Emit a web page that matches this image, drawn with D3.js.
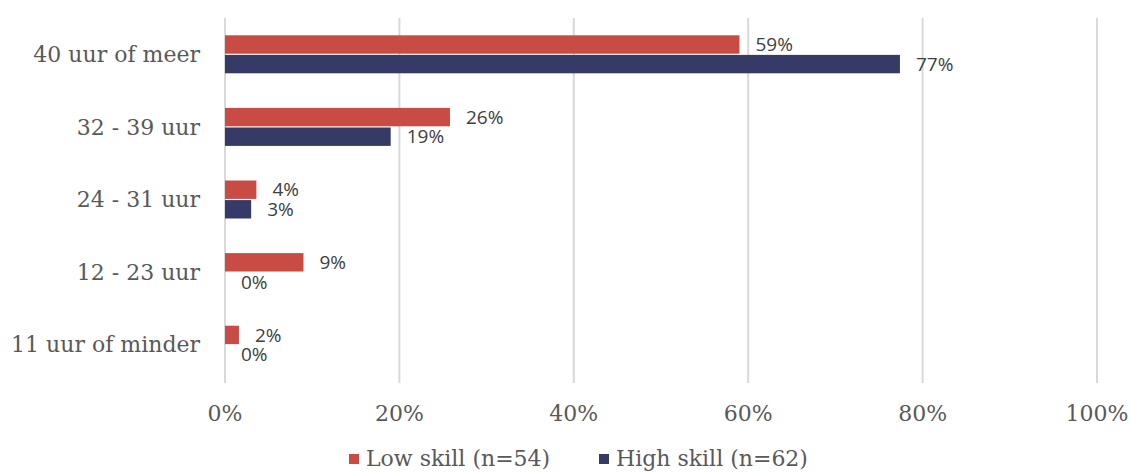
<!DOCTYPE html>
<meta charset="utf-8">
<style>
body { margin: 0; background: #fff; }
.grid line { stroke: #d9d9d9; stroke-width: 2; }
.cat, .tick-lbl, .legend text { font-family: "DejaVu Serif", serif; fill: #595959; }
.val { font-family: "Open Sans", "Noto Sans", sans-serif; font-size: 19px; fill: #404040; }
</style>
<svg width="1131" height="472"></svg>
<script src="https://d3js.org/d3.v7.min.js"></script>
<script>

var categories = ["40 uur of meer", "32 - 39 uur", "24 - 31 uur", "12 - 23 uur", "11 uur of minder"];
var seriesNames = ["Low skill (n=54)", "High skill (n=62)"];
var lowSkill = [0.59, 0.26, 0.04, 0.09, 0.02];
var highSkill = [0.77, 0.19, 0.03, 0.00, 0.00];
var lowShown = [0.59, 0.258, 0.036, 0.09, 0.016];
var highShown = [0.774, 0.19, 0.03, 0.00, 0.00];
var ticks = [0, 0.2, 0.4, 0.6, 0.8, 1.0];
var colors = ["#c94c44", "#363a66"];

var svg = d3.select("svg");

var x = d3.scaleLinear().domain([0, 1]).range([225, 1097]);
var y = d3.scaleBand().domain(categories).range([18, 381]);
var inner = d3.scaleBand().domain([0, 1]).range([y.bandwidth() / 2 - 19, y.bandwidth() / 2 + 19]).paddingInner(0.06);

// gridlines
svg.append("g").attr("class", "grid")
  .selectAll("line").data(ticks).enter().append("line")
    .attr("x1", function(d) { return x(d); })
    .attr("x2", function(d) { return x(d); })
    .attr("y1", 18).attr("y2", 383);

// x tick labels
svg.append("g").selectAll("text").data(ticks).enter().append("text")
    .attr("class", "tick-lbl")
    .attr("x", function(d) { return x(d); })
    .attr("y", 413)
    .attr("dy", "0.35em")
    .attr("text-anchor", "middle")
    .style("font-size", "22px")
    .text(d3.format(".0%"));

// category labels
svg.append("g").selectAll("text").data(categories).enter().append("text")
    .attr("class", "cat")
    .attr("x", 200)
    .attr("y", function(d) { return y(d) + y.bandwidth() / 2; })
    .attr("dy", "0.35em")
    .attr("text-anchor", "end")
    .style("font-size", "22px")
    .text(function(d) { return d; });

var series = [
  { vals: lowShown, labels: lowSkill },
  { vals: highShown, labels: highSkill }
];

series.forEach(function(s, si) {
  var g = svg.append("g");
  g.selectAll("rect").data(categories).enter().append("rect")
      .attr("x", x(0))
      .attr("y", function(d) { return y(d) + inner(si); })
      .attr("width", function(d, i) { return x(s.vals[i]) - x(0); })
      .attr("height", inner.bandwidth())
      .attr("fill", colors[si]);
  g.selectAll("text").data(categories).enter().append("text")
      .attr("class", "val")
      .attr("x", function(d, i) { return x(s.vals[i]) + 16; })
      .attr("y", function(d) { return y(d) + inner(si) + inner.bandwidth() / 2; })
      .attr("dy", "0.35em")
      .text(function(d, i) { return d3.format(".0%")(s.labels[i]); });
});

// legend
var legendX = [349, 599];
var lg = svg.append("g").attr("class", "legend");
seriesNames.forEach(function(name, i) {
  lg.append("rect")
    .attr("x", legendX[i]).attr("y", 454)
    .attr("width", 10).attr("height", 10)
    .attr("fill", colors[i]);
  lg.append("text")
    .attr("x", legendX[i] + 17).attr("y", 458)
    .attr("dy", "0.35em")
    .style("font-size", "22px")
    .text(name);
});

</script>
